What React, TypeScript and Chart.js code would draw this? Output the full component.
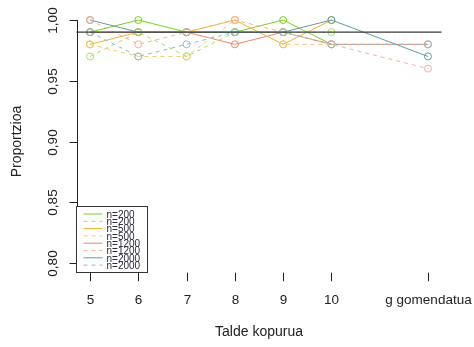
import React, { useEffect, useRef } from 'react';
import { Chart, registerables } from 'chart.js';

Chart.register(...registerables);

// ---- data ----
const categories = ['5', '6', '7', '8', '9', '10', 'g gomendatua'];
const xPositions = [1, 2, 3, 4, 5, 6, 8];
const yTicks = [0.8, 0.85, 0.9, 0.95, 1.0];
const yTickLabels = ['0,80', '0,85', '0,90', '0,95', '1,00'];
const referenceLevel = 0.99;
const xTitle = 'Talde kopurua';
const yTitle = 'Proportzioa';

const legendLabels = ['n=200', 'n=200', 'n=500', 'n=500', 'n=1200', 'n=1200', 'n=2000', 'n=2000'];

const n200 = [0.99, 1.0, 0.99, 0.99, 1.0, 0.98, null];
const n200b = [0.97, 0.99, 0.97, 0.99, 0.99, 0.99, null];
const n500 = [0.98, 0.99, 0.99, 1.0, 0.98, 1.0, null];
const n500b = [0.98, 0.97, 0.97, 1.0, 0.98, 0.98, null];
const n1200 = [0.99, 0.99, 0.99, 0.98, 0.99, 0.98, 0.98];
const n1200b = [1.0, 0.98, 0.99, 1.0, 0.99, 0.98, 0.96];
const n2000 = [1.0, 0.99, 0.99, 0.99, 0.99, 1.0, 0.97];
const n2000b = [0.99, 0.97, 0.98, 0.99, 0.99, 0.98, 0.98];

const seriesValues = [n200, n200b, n500, n500b, n1200, n1200b, n2000, n2000b];

// ---- styles ----
const colors = ['#74D41C', '#A8E05C', '#F2B22E', '#F7C76A', '#F7825F', '#F9AE9A', '#5F9EA0', '#8FBFC8'];
const dashed = [false, true, false, true, false, true, false, true];
const FONT = '"Liberation Sans", Arial, sans-serif';

const rPlot = {
  id: 'rPlot',
  afterDatasetsDraw(chart: any) {
    const { ctx, chartArea, scales } = chart;
    const y = scales.y;
    const yy = y.getPixelForValue(referenceLevel);
    ctx.save();
    ctx.strokeStyle = '#3a3a3a';
    ctx.lineWidth = 1.4;
    ctx.beginPath();
    ctx.moveTo(chartArea.left, yy);
    ctx.lineTo(chartArea.right, yy);
    ctx.stroke();
    ctx.restore();
  },
  afterDraw(chart: any) {
    const { ctx, chartArea, scales } = chart;
    const x = scales.x;
    const y = scales.y;
    ctx.save();
    ctx.strokeStyle = '#222';
    ctx.fillStyle = '#222';
    ctx.lineWidth = 1;

    // y axis
    const ax = Math.round(chartArea.left) + 0.5;
    const yTop = y.getPixelForValue(yTicks[yTicks.length - 1]);
    const yBot = y.getPixelForValue(yTicks[0]);
    ctx.beginPath();
    ctx.moveTo(ax, yTop);
    ctx.lineTo(ax, yBot);
    ctx.stroke();
    ctx.font = `13.5px ${FONT}`;
    ctx.textAlign = 'center';
    ctx.textBaseline = 'middle';
    yTicks.forEach((t, i) => {
      const py = Math.round(y.getPixelForValue(t)) + 0.5;
      ctx.beginPath();
      ctx.moveTo(ax - 8, py);
      ctx.lineTo(ax, py);
      ctx.stroke();
      ctx.save();
      ctx.translate(ax - 24, py);
      ctx.rotate(-Math.PI / 2);
      ctx.fillText(yTickLabels[i], 0, 0);
      ctx.restore();
    });

    // x ticks (no axis line)
    const by = chartArea.bottom;
    categories.forEach((c, i) => {
      const px = Math.round(x.getPixelForValue(xPositions[i])) + 0.5;
      ctx.beginPath();
      ctx.moveTo(px, by);
      ctx.lineTo(px, by + 8.5);
      ctx.stroke();
      ctx.fillText(c, px, by + 27.5);
    });

    // titles
    ctx.font = `14px ${FONT}`;
    ctx.fillText(xTitle, (chartArea.left + chartArea.right) / 2, by + 59);
    ctx.save();
    ctx.translate(17, (chartArea.top + chartArea.bottom) / 2);
    ctx.rotate(-Math.PI / 2);
    ctx.fillText(yTitle, 0, 0);
    ctx.restore();

    // legend
    const lx = Math.round(chartArea.left) - 0.5;
    const lb = Math.round(chartArea.bottom) - 0.5;
    const lw = 71;
    const lh = 66;
    const lt = lb - lh;
    ctx.fillStyle = '#fff';
    ctx.fillRect(lx, lt, lw, lh);
    ctx.strokeStyle = '#333';
    ctx.strokeRect(lx, lt, lw, lh);
    ctx.font = `10px ${FONT}`;
    ctx.textAlign = 'left';
    legendLabels.forEach((lab, i) => {
      const ry = lt + 7.5 + i * 7.3;
      ctx.strokeStyle = colors[i];
      ctx.setLineDash(dashed[i] ? [4, 4] : []);
      ctx.beginPath();
      ctx.moveTo(lx + 7, ry);
      ctx.lineTo(lx + 26, ry);
      ctx.stroke();
      ctx.setLineDash([]);
      ctx.fillStyle = '#2a2a3a';
      ctx.fillText(lab, lx + 30, ry + 1);
    });
    ctx.restore();
  },
};

export default function App() {
  const ref = useRef<HTMLCanvasElement>(null);
  useEffect(() => {
    document.body.style.margin = '0';
    const canvas = ref.current;
    if (!canvas) return;
    const datasets = seriesValues.map((vals, i) => {
      // solid series are drawn first, dashed series on top
      const rank = dashed[i] ? 4 + (i - 1) / 2 : i / 2;
      return {
        label: legendLabels[i],
        data: vals
          .map((v, j) => (v == null ? null : { x: xPositions[j], y: v }))
          .filter((p) => p !== null),
        borderColor: colors[i],
        backgroundColor: 'transparent',
        borderWidth: 1,
        borderDash: dashed[i] ? [4, 4] : [],
        pointRadius: 3.5,
        pointBorderWidth: 1,
        pointBorderColor: colors[i],
        pointBackgroundColor: 'transparent',
        pointStyle: 'circle',
        tension: 0,
        order: -rank,
        clip: false as any,
      };
    });
    const chart = new Chart(canvas, {
      type: 'line',
      data: { datasets: datasets as any },
      options: {
        responsive: false,
        animation: false,
        events: [],
        layout: { padding: { left: 76.5, right: 32.5, top: 10.3, bottom: 74.3 } },
        plugins: { legend: { display: false }, tooltip: { enabled: false } },
        scales: {
          x: { type: 'linear', min: 0.72, max: 8.28, display: false },
          y: { type: 'linear', min: 0.792, max: 1.008, display: false },
        },
      },
      plugins: [rPlot],
    });
    return () => chart.destroy();
  }, []);
  return (
    <div style={{ position: 'absolute', left: 0, top: 0, width: 474, height: 347, background: '#fff' }}>
      <canvas ref={ref} width={474} height={347} style={{ display: 'block' }} />
    </div>
  );
}
